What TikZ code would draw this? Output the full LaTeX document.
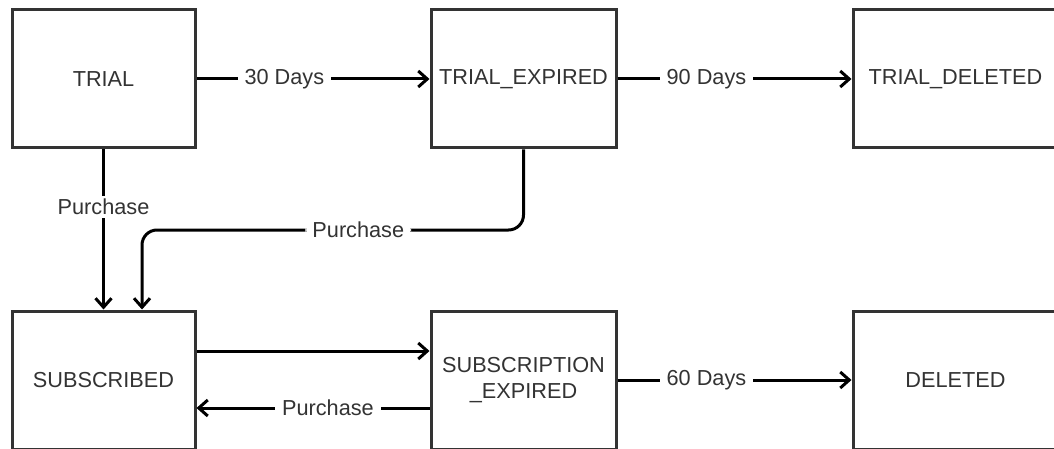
\documentclass[tikz,border=0pt]{standalone}
\usepackage{fontspec}
\setmainfont{Liberation Sans}
\usetikzlibrary{arrows.meta}
\definecolor{boxline}{HTML}{333333}
\definecolor{txt}{HTML}{333333}
\tikzset{
  state/.style={draw=boxline, line width=3pt, fill=white, rectangle, minimum height=138pt, inner sep=0pt, text=txt, align=center, font=\fontsize{21.7}{26}\selectfont},
  arr/.style={draw=black, line width=3pt, -{Straight Barb[length=9pt,width=16pt,line width=3pt]}},
  lbl/.style={fill=white, text=txt, inner xsep=7pt, inner ysep=3pt, font=\fontsize{21.7}{26}\selectfont}
}
\begin{document}
\begin{tikzpicture}[x=1pt,y=-1pt]
\useasboundingbox (0,0) rectangle (1054,449);
\begin{scope}
\clip (0,0) rectangle (1054,449);
\node[state, minimum width=183pt] (trial) at (103.5,79) {TRIAL};
\node[state, minimum width=185pt] (texp) at (523.5,79) {TRIAL\_EXPIRED};
\node[state, minimum width=205pt] (tdel) at (955.5,79) {TRIAL\_DELETED};
\node[state, minimum width=183pt] (sub) at (103.5,380) {SUBSCRIBED};
\node[state, minimum width=185pt] (sexp) at (523.5,380) {SUBSCRIPTION\\\_EXPIRED};
\node[state, minimum width=205pt] (del) at (955.5,380) {DELETED};
\end{scope}
\coordinate (c1) at (523.5,230);
\coordinate (c2) at (142,230);
\draw[arr] (trial.east) -- node[lbl, pos=0.377] {30 Days} (texp.west);
\draw[arr] (texp.east) -- node[lbl, pos=0.38] {90 Days} (tdel.west);
\draw[arr] (trial.south) -- node[lbl, pos=0.36] {Purchase} (sub.north);
\draw[arr, rounded corners=15pt] (texp.south) -- (c1) -- node[lbl, pos=0.433] {Purchase} (c2) -- (sub.north -| c2);
\draw[arr] (sub.east |- 0,351) -- (sexp.west |- 0,351);
\draw[arr] (sexp.west |- 0,408) -- node[lbl, pos=0.436] {Purchase} (sub.east |- 0,408);
\draw[arr] (sexp.east) -- node[lbl, pos=0.38] {60 Days} (del.west);
\end{tikzpicture}
\end{document}
